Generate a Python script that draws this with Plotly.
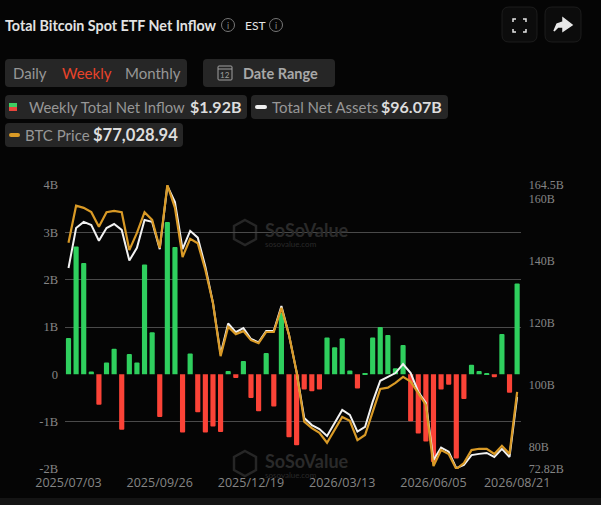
import plotly.graph_objects as go

W, H = 601, 505

dates = ["2025/07/03","2025/07/11","2025/07/18","2025/07/25","2025/08/01","2025/08/08","2025/08/15","2025/08/22","2025/08/29",
"2025/09/05","2025/09/12","2025/09/19","2025/09/26","2025/10/03","2025/10/10","2025/10/17","2025/10/24","2025/10/31",
"2025/11/07","2025/11/14","2025/11/21","2025/11/28","2025/12/05","2025/12/12","2025/12/19","2025/12/26",
"2026/01/02","2026/01/09","2026/01/16","2026/01/23","2026/01/30","2026/02/06","2026/02/13","2026/02/20","2026/02/27",
"2026/03/06","2026/03/13","2026/03/20","2026/03/27","2026/04/03","2026/04/10","2026/04/17","2026/04/24",
"2026/05/01","2026/05/08","2026/05/15","2026/05/22","2026/05/29","2026/06/05","2026/06/12","2026/06/19","2026/06/26",
"2026/07/03","2026/07/10","2026/07/17","2026/07/24","2026/07/31","2026/08/07","2026/08/14","2026/08/21"]

net_inflow = [0.77,2.70,2.35,0.06,-0.64,0.25,0.54,-1.17,0.43,0.25,2.32,0.89,-0.90,3.22,2.69,-1.23,0.44,-0.80,-1.23,-1.10,
-1.22,0.07,-0.08,0.28,-0.50,-0.78,0.45,-0.68,1.30,-1.33,-1.50,-0.32,-0.36,-0.32,0.78,0.57,0.76,0.08,-0.30,0.01,
0.78,1.00,0.83,0.13,0.62,-0.99,-1.25,-1.42,-1.85,-0.32,-0.22,-1.78,-0.52,0.20,0.07,0.03,-0.06,0.85,-0.39,1.92]

net_assets = [137.7,150.6,152.6,151.6,146.5,150.6,151.9,150.0,140.1,144.2,153.2,152.6,143.8,164.2,159.0,143.8,149.7,147.5,138.1,126.4,
109.9,119.8,117.0,118.3,114.8,113.7,117.4,117.4,125.4,116.1,104.1,89.3,87.0,85.7,83.5,87.7,91.9,90.3,84.9,86.4,
94.5,101.3,102.5,103.8,106.7,103.8,97.7,94.2,75.7,79.7,78.4,73.1,74.1,77.3,77.7,78.0,76.7,79.3,76.7,96.07]

btc_price = [111600,120200,119700,118700,115300,118700,119000,118700,109900,113900,118700,116900,110400,125000,119700,108300,112500,111500,105300,97600,
85300,92100,90400,91100,89000,88300,90900,90900,96500,90200,81600,70100,68600,67500,65200,68200,71200,70300,65800,67000,
72400,77700,78000,79100,80500,79400,76700,74000,59800,63500,62600,59100,60500,63500,63800,63800,62600,64500,62600,77028.94]

left_ticks = [-2,-1,0,1,2,3,4]
left_labels = ["-2B","-1B","0","1B","2B","3B","4B"]
right_ticks = [72.82,80,100,120,140,160,164.5]
right_labels = ["72.82B","80B","100B","120B","140B","160B","164.5B"]
x_labels = ["2025/07/03","2025/09/26","2025/12/19","2026/03/13","2026/06/05","2026/08/21"]

BG = "#050505"
GREEN, RED, GOLD = "#2fcf5e", "#fb4337", "#d99a26"
AXIS = "#858585"
UI = "Lato"

def px(x): return x / W
def py(y): return 1 - y / H

def rrect(x0, y0, x1, y1, r, fill, line=None):
    X0, X1 = px(x0), px(x1)
    Y0, Y1 = py(y0), py(y1)
    rx, ry = r / W, r / H
    d = (f"M{X0+rx},{Y0} L{X1-rx},{Y0} Q{X1},{Y0} {X1},{Y0-ry} L{X1},{Y1+ry} Q{X1},{Y1} {X1-rx},{Y1} "
         f"L{X0+rx},{Y1} Q{X0},{Y1} {X0},{Y1+ry} L{X0},{Y0-ry} Q{X0},{Y0} {X0+rx},{Y0} Z")
    return dict(type="path", xref="paper", yref="paper", path=d, fillcolor=fill,
                line=dict(color=line or "rgba(0,0,0,0)", width=1), layer="below")

def poly(pts, color, width=1.5, fill=None, close=False):
    d = "M" + " L".join(f"{px(a)},{py(b)}" for a, b in pts) + (" Z" if close else "")
    return dict(type="path", xref="paper", yref="paper", path=d,
                line=dict(color=color, width=width), fillcolor=fill or "rgba(0,0,0,0)", layer="below")

def circle(cx, cy, r, color):
    return dict(type="circle", xref="paper", yref="paper", x0=px(cx-r), x1=px(cx+r), y0=py(cy+r), y1=py(cy-r),
                line=dict(color=color, width=1), layer="below")

def txt(x, y, s, size, color, bold=False, family=UI, anchor="left"):
    if anchor == "left":
        x -= 1
    return dict(x=px(x), y=py(y), xref="paper", yref="paper", text=f"<b>{s}</b>" if bold else s, showarrow=False,
                xanchor=anchor, yanchor="middle", align="left", font=dict(size=size, color=color, family=family),
                borderpad=0, bgcolor="rgba(0,0,0,0)")

WATERMARK = "<span style='font-size:18px'><b>SoSoValue</b></span><br>sosovalue.com"

shapes = [
    rrect(5, 59, 187, 87, 4, "#262626"),
    rrect(203, 59, 335, 87, 4, "#262626"),
    rrect(5, 95, 247, 119, 4, "#262626"),
    rrect(251, 95, 448, 119, 4, "#262626"),
    rrect(5, 123, 183, 147, 4, "#262626"),
    rrect(502, 7, 537, 42, 7, "#0c0c0c", "#1c1c1c"),
    rrect(545, 7, 581, 42, 7, "#0c0c0c", "#1c1c1c"),
    circle(228, 25, 6.5, "#777777"),
    circle(276, 25, 6.5, "#777777"),
    rrect(9, 103, 17, 107, 0, "#3fce63"),
    rrect(9, 107, 17, 111, 0, "#e8463c"),
    rrect(255, 105, 267, 109, 2, "#f0f0f0"),
    rrect(9, 133, 20, 137, 2, GOLD),
    # calendar icon
    rrect(218, 66, 232, 80, 1, "rgba(0,0,0,0)", "#a0a0a0"),
    poly([(218, 69), (232, 69)], "#a0a0a0", 1),
    # full-screen icon
    poly([(513, 22), (513, 19), (516, 19)], "#e5e5e5", 1.5),
    poly([(523, 19), (526, 19), (526, 22)], "#e5e5e5", 1.5),
    poly([(513, 29), (513, 32), (516, 32)], "#e5e5e5", 1.5),
    poly([(523, 32), (526, 32), (526, 29)], "#e5e5e5", 1.5),
    # share icon
    poly([(554, 31), (557, 24), (563, 22), (563, 18), (572, 25), (563, 31), (563, 27), (558, 27)], "#e8e8e8", 1.5, "#e8e8e8", True),
    # bottom band
    dict(type="rect", xref="paper", yref="paper", x0=0, x1=1, y0=0, y1=py(498), fillcolor="#141414", line=dict(width=0), layer="below"),
    # watermark hexagons
    poly([(245, 220), (256, 226), (256, 239), (245, 245), (234, 239), (234, 226)], "#262626", 2.5, None, True),
    poly([(245, 451), (256, 457), (256, 470), (245, 476), (234, 470), (234, 457)], "#262626", 2.5, None, True),
]

annotations = [
    txt(5, 25, "Total Bitcoin Spot ETF Net Inflow", 14.3, "#e2e2e2", True),
    txt(228, 25, "i", 9, "#888888", anchor="center"),
    txt(245, 25, "EST", 12, "#e6e6e6"),
    txt(276, 25, "i", 9, "#888888", anchor="center"),
    txt(13, 73, "Daily", 15, "#979797"),
    txt(62, 73, "Weekly", 15, "#e8432a"),
    txt(125, 73, "Monthly", 15, "#979797"),
    txt(225, 75, "12", 8, "#a0a0a0", anchor="center"),
    txt(243, 73, "Date Range", 14.5, "#a8a8a8", True),
    txt(29, 107, "Weekly Total Net Inflow", 14.8, "#979797"),
    txt(190, 107, "$1.92B", 16, "#dddddd", True),
    txt(272, 107, "Total Net Assets", 15, "#979797"),
    txt(381, 107, "$96.07B", 16, "#dddddd", True),
    txt(25, 135, "BTC Price", 15, "#979797"),
    txt(93, 135, "$77,028.94", 16.6, "#dddddd", True),
    txt(265, 234, WATERMARK, 8, "#2a2a2a"),
    txt(265, 465, WATERMARK, 8, "#2a2a2a"),
]

fig = go.Figure()
fig.add_bar(x=dates, y=net_inflow, yaxis="y", width=0.68,
            marker=dict(color=[GREEN if v >= 0 else RED for v in net_inflow], line_width=0, cornerradius=1))
fig.add_scatter(x=dates, y=net_assets, yaxis="y2", mode="lines", line=dict(color="#f2f2f2", width=2))
fig.add_scatter(x=dates, y=btc_price, yaxis="y3", mode="lines", line=dict(color=GOLD, width=2.2))

fig.update_layout(
    width=W, height=H, autosize=False, margin=dict(l=0, r=0, t=0, b=0, pad=0, autoexpand=False),
    paper_bgcolor=BG, plot_bgcolor="rgba(0,0,0,0)", showlegend=False,
    shapes=shapes, annotations=annotations,
    xaxis=dict(type="category", domain=[px(65), px(520.7)], range=[-0.46, 59.47], automargin=False,
               tickmode="array", tickvals=x_labels, ticktext=x_labels, ticks="", showgrid=False, showline=False,
               zeroline=False, tickfont=dict(size=12.5, color=AXIS, family="Open Sans"), anchor="y",
               ticklabeloverflow="allow", ticklabelstandoff=4),
    yaxis=dict(domain=[py(469), py(185)], range=[-2, 4], tickmode="array", tickvals=left_ticks, ticktext=left_labels, automargin=False,
               showgrid=True, gridcolor="#4a4a4a", gridwidth=1, zeroline=True, zerolinecolor="rgba(0,0,0,0)", zerolinewidth=1,
               showline=False, ticks="", tickfont=dict(size=12.5, color=AXIS, family="Liberation Serif"), anchor="x",
               layer="below traces", ticklabelstandoff=6),
    yaxis2=dict(overlaying="y", side="right", range=[72.82, 164.5], tickmode="array", tickvals=right_ticks, ticktext=right_labels, automargin=False,
                showgrid=False, zeroline=False, ticks="", tickfont=dict(size=12, color=AXIS, family="Liberation Serif"), anchor="x",
                ticklabelstandoff=7),
    yaxis3=dict(overlaying="y", range=[59112, 125000], visible=False, anchor="x", automargin=False),
)

fig.write_html("out.html", config={"displayModeBar": False},
               post_script="document.body.style.margin='0';document.body.style.background='#050505';")
